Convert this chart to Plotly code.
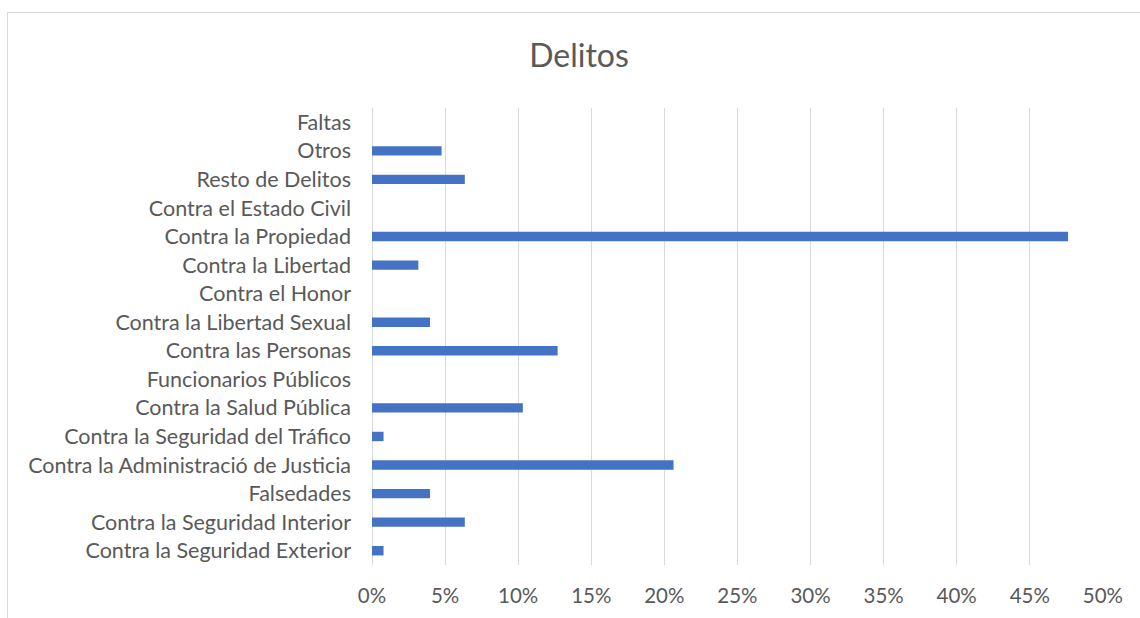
import plotly.graph_objects as go

categories = [
    "Contra la Seguridad Exterior",
    "Contra la Seguridad Interior",
    "Falsedades",
    "Contra la Administració de Justicia",
    "Contra la Seguridad del Tráfico",
    "Contra la Salud Pública",
    "Funcionarios Públicos",
    "Contra las Personas",
    "Contra la Libertad Sexual",
    "Contra el Honor",
    "Contra la Libertad",
    "Contra la Propiedad",
    "Contra el Estado Civil",
    "Resto de Delitos",
    "Otros",
    "Faltas",
]
values = [0.0079, 0.0635, 0.0397, 0.2063, 0.0079, 0.1032, 0.0, 0.1270,
          0.0397, 0.0, 0.0317, 0.4762, 0.0, 0.0635, 0.0476, 0.0]
x_ticks = [i * 0.05 for i in range(11)]

TEXT = "#595959"
GRID = "#d9d9d9"
FONT = "Lato"

fig = go.Figure(go.Bar(
    x=values, y=categories, orientation="h",
    marker=dict(color="#4472C4", line=dict(width=0)),
    width=0.33,
))

fig.update_layout(
    width=1140, height=618,
    margin=dict(l=372, r=37, t=108, b=53),
    paper_bgcolor="white", plot_bgcolor="white",
    showlegend=False,
    font=dict(family=FONT, color=TEXT, size=21),
    title=dict(text="Delitos", x=579 / 1140, xref="container", y=0.91, yref="container",
               xanchor="center", yanchor="middle",
               font=dict(family=FONT, size=32, color=TEXT)),
    xaxis=dict(range=[0, 0.5001], tickvals=x_ticks, tickformat=".0%",
               showgrid=True, gridcolor=GRID, gridwidth=1,
               zeroline=True, zerolinecolor=GRID, zerolinewidth=1,
               showline=False, ticks="", ticklabelstandoff=16,
               tickfont=dict(family=FONT, size=20.5, color=TEXT)),
    yaxis=dict(categoryorder="array", categoryarray=categories,
               showgrid=False, zeroline=False, showline=False, ticks="",
               ticklabelstandoff=20,
               tickfont=dict(family=FONT, size=21.5, color=TEXT)),
)

# chart border (top and left edges visible in the frame)
fig.add_shape(type="line", xref="paper", yref="paper",
              x0=(7 - 372) / 731, x1=1.2, y0=(565 - 12.5) / 457, y1=(565 - 12.5) / 457,
              line=dict(color=GRID, width=1))
fig.add_shape(type="line", xref="paper", yref="paper",
              x0=(7.5 - 372) / 731, x1=(7.5 - 372) / 731, y0=-0.2, y1=(565 - 12.5) / 457,
              line=dict(color=GRID, width=1))

fig.write_html("out.html")
